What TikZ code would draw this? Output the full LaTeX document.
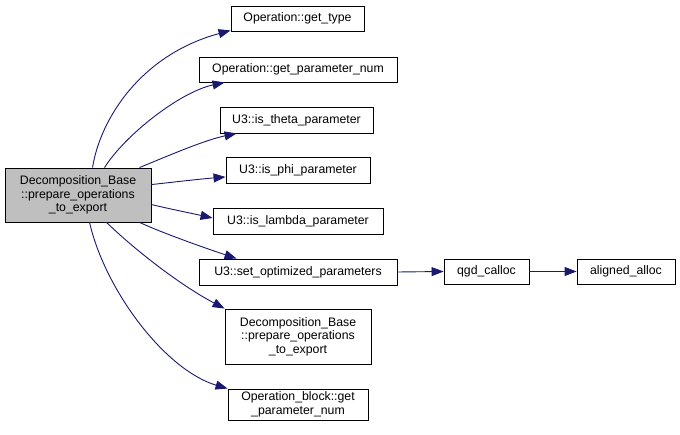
\documentclass[tikz,border=0pt]{standalone}
\usepackage{fontspec}
\setmainfont{Liberation Sans}
\usetikzlibrary{calc,arrows.meta}
\definecolor{edgeblue}{HTML}{191970}
\definecolor{maingray}{HTML}{BFBFBF}
\tikzset{
  fn/.style={draw=black, line width=0.9pt, fill=white, inner sep=0pt, align=center,
    font=\fontsize{12.3}{13.5}\selectfont},
  mainfn/.style={fn, fill=maingray},
  call/.style={draw=edgeblue, line width=0.9pt, -{Triangle[length=12pt,width=9pt]}},
}
\begin{document}
\begin{tikzpicture}[x=1pt,y=-1pt]
\useasboundingbox (0,0) rectangle (680,435);
\node[mainfn, minimum width=146pt, minimum height=54pt] (main) at (78,195) {Decomposition\_Base\\::prepare\_operations\\\_to\_export};
\node[fn, minimum width=133pt, minimum height=25pt] (gettype) at (297.5,18.5) {Operation::get\_type};
\node[fn, minimum width=198pt, minimum height=25pt] (gpn) at (298,69.5) {Operation::get\_parameter\_num};
\node[fn, minimum width=153pt, minimum height=26pt] (theta) at (296.5,120) {U3::is\_theta\_parameter};
\node[fn, minimum width=144pt, minimum height=26pt] (phi) at (298,170) {U3::is\_phi\_parameter};
\node[fn, minimum width=170pt, minimum height=26pt] (lambda) at (298,221) {U3::is\_lambda\_parameter};
\node[fn, minimum width=198pt, minimum height=26pt] (setopt) at (298,272) {U3::set\_optimized\_parameters};
\node[fn, minimum width=146pt, minimum height=55pt] (decomp) at (298,336.5) {Decomposition\_Base\\::prepare\_operations\\\_to\_export};
\node[fn, minimum width=140pt, minimum height=31pt] (opblock) at (298,404.5) {Operation\_block::get\\\_parameter\_num};
\node[fn, minimum width=85pt, minimum height=25pt] (qgd) at (486.5,271.5) {qgd\_calloc};
\node[fn, minimum width=98pt, minimum height=25pt] (aligned) at (626,271.5) {aligned\_alloc};

\draw[call] ($(main.north west)+(88,0)$) .. controls (100,120) and (140,55) .. ($(gettype.south west)+(0,-1)$);
\draw[call] ($(main.north west)+(100,0)$) .. controls (125,135) and (180,92) .. ($(gpn.south west)+(26,0)$);
\draw[call] ($(main.north west)+(135,0)$) .. controls (170,155) and (205,140) .. ($(theta.south west)+(17,0)$);
\draw[call] ($(main.north east)+(0,17)$) .. controls (175,182) and (200,179) .. ($(phi.west)+(0,7)$);
\draw[call] ($(main.north east)+(0,37)$) .. controls (170,209) and (190,213) .. ($(lambda.west)+(0,-3)$);
\draw[call] ($(main.south west)+(135,0)$) .. controls (165,234) and (205,248) .. ($(setopt.north west)+(38,0)$);
\draw[call] ($(main.south west)+(102,0)$) .. controls (135,250) and (180,285) .. (decomp.north west);
\draw[call] ($(main.south west)+(85,0)$) .. controls (105,290) and (165,370) .. (opblock.north west);
\draw[call] (setopt.east) -- (qgd.west);
\draw[call] (qgd.east) -- (aligned.west);
\end{tikzpicture}
\end{document}
